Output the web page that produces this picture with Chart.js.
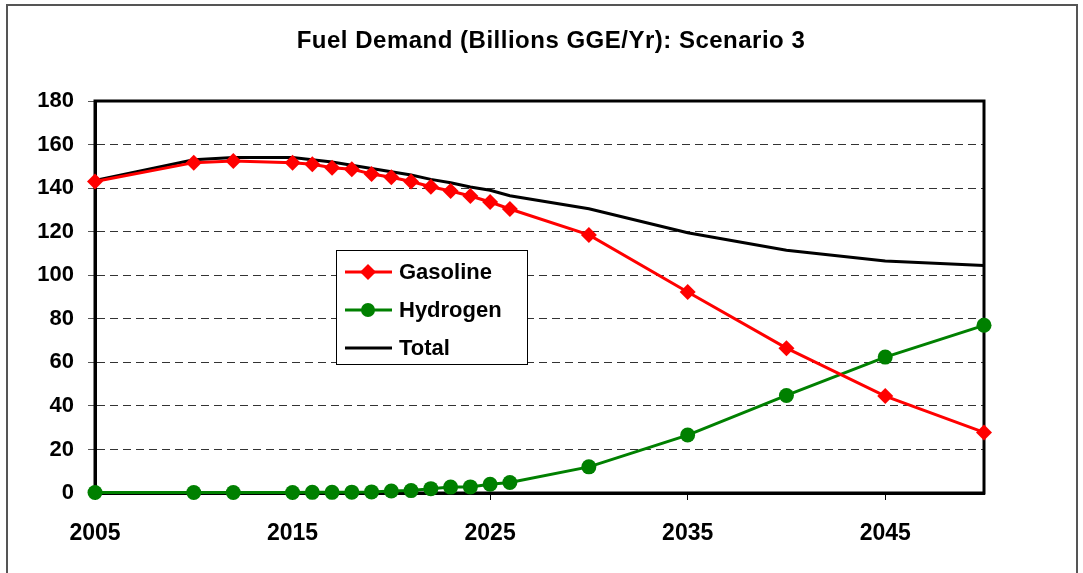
<!DOCTYPE html>
<html>
<head>
<meta charset="utf-8">
<script src="https://cdn.jsdelivr.net/npm/chart.js@4.4.1/dist/chart.umd.min.js"></script>
<style>
  html, body { margin: 0; padding: 0; background: #fff; }
  #wrap { width: 1083px; height: 573px; }
</style>
</head>
<body>
<div id="wrap"><canvas id="fuel-demand"></canvas></div>
<script>
const years = [2005, 2010, 2012, 2015, 2016, 2017, 2018, 2019, 2020, 2021, 2022, 2023, 2024, 2025, 2026, 2030, 2035, 2040, 2045, 2050];
const gasoline = [143, 151.7, 152.5, 151.7, 151, 149.4, 148.7, 146.5, 145, 143, 140.6, 138.7, 136.4, 133.6, 130.4, 118.5, 92.3, 66.5, 44.5, 27.8];
const hydrogen = [0.2, 0.2, 0.2, 0.2, 0.3, 0.3, 0.4, 0.5, 0.9, 1.1, 2, 2.7, 2.8, 4, 4.8, 12, 26.6, 44.8, 62.4, 77];
const total = [143.5, 153, 154, 154, 153, 152, 150.5, 149, 147.5, 146, 144, 142.5, 140.5, 139, 136.5, 130.5, 119.5, 111.5, 106.5, 104.5];
const xTickLabels = [2005, 2015, 2025, 2035, 2045];
const seriesNames = ["Gasoline", "Hydrogen", "Total"];
const chartTitle = "Fuel Demand (Billions GGE/Yr): Scenario 3";

const red = "#ff0000";
const green = "#008000";
const fontFamily = "Arial, 'Liberation Sans', sans-serif";

const toPoints = (vals) => vals.map((v, i) => ({ x: years[i], y: v }));

// grey frame round the whole chart, the title, and black frame round the plot
const framePlugin = {
  id: "frames",
  beforeDraw(chart) {
    const ctx = chart.ctx;
    ctx.save();
    ctx.strokeStyle = "#555";
    ctx.lineWidth = 2;
    ctx.strokeRect(7, 5, 1070, 620);
    ctx.fillStyle = "#000";
    ctx.font = "bold 24px " + fontFamily;
    ctx.letterSpacing = "0.5px";
    ctx.textAlign = "center";
    ctx.textBaseline = "middle";
    ctx.fillText(chartTitle, 551, 41);
    ctx.restore();
  },
  beforeDatasetsDraw(chart) {
    const { ctx, chartArea: a } = chart;
    ctx.save();
    ctx.strokeStyle = "#000";
    ctx.lineWidth = 3;
    ctx.strokeRect(a.left, a.top, a.right - a.left, a.bottom - a.top);
    ctx.restore();
  },
};

// legend box floating inside the plot
const boxLegend = {
  id: "boxLegend",
  afterDraw(chart) {
    const ctx = chart.ctx;
    const x0 = 336, y0 = 250, w = 191, h = 114;
    ctx.save();
    ctx.fillStyle = "#fff";
    ctx.fillRect(x0, y0, w, h);
    ctx.strokeStyle = "#000";
    ctx.lineWidth = 1;
    ctx.strokeRect(x0 + 0.5, y0 + 0.5, w, h);
    const rows = [272, 310, 348];
    const colors = [red, green, "#000"];
    ctx.font = "bold 22px " + fontFamily;
    ctx.textBaseline = "middle";
    rows.forEach((y, i) => {
      ctx.strokeStyle = colors[i];
      ctx.lineWidth = 3;
      ctx.beginPath();
      ctx.moveTo(345, y);
      ctx.lineTo(392, y);
      ctx.stroke();
      ctx.fillStyle = colors[i];
      if (i === 0) {
        ctx.beginPath();
        ctx.moveTo(368, y - 8);
        ctx.lineTo(376, y);
        ctx.lineTo(368, y + 8);
        ctx.lineTo(360, y);
        ctx.closePath();
        ctx.fill();
      } else if (i === 1) {
        ctx.beginPath();
        ctx.arc(368, y, 7, 0, Math.PI * 2);
        ctx.fill();
      }
      ctx.fillStyle = "#000";
      ctx.fillText(seriesNames[i], 399, y + 1);
    });
    ctx.restore();
  },
};

new Chart(document.getElementById("fuel-demand").getContext("2d"), {
  type: "line",
  data: {
    datasets: [
      {
        label: seriesNames[0],
        data: toPoints(gasoline),
        borderColor: red,
        backgroundColor: red,
        borderWidth: 3,
        pointStyle: "rectRot",
        pointRadius: 8,
        pointBorderWidth: 0,
        clip: false,
      },
      {
        label: seriesNames[1],
        data: toPoints(hydrogen),
        borderColor: green,
        backgroundColor: green,
        borderWidth: 3,
        pointStyle: "circle",
        pointRadius: 7.5,
        pointBorderWidth: 0,
        clip: false,
      },
      {
        label: seriesNames[2],
        data: toPoints(total),
        borderColor: "#000",
        backgroundColor: "#000",
        borderWidth: 3,
        pointRadius: 0,
        clip: false,
      },
    ],
  },
  options: {
    responsive: true,
    maintainAspectRatio: false,
    animation: false,
    events: [],
    layout: { padding: { left: 0, right: 99, top: 101, bottom: 0 } },
    scales: {
      x: {
        type: "linear",
        min: 2005,
        max: 2050,
        afterBuildTicks: (scale) => {
          scale.ticks = xTickLabels.map((v) => ({ value: v }));
        },
        afterFit: (scale) => {
          scale.height = 80;
        },
        grid: {
          drawOnChartArea: false,
          tickLength: 7,
          tickColor: "#000",
          tickWidth: 1,
        },
        border: { display: true, color: "#000", width: 3 },
        ticks: {
          color: "#000",
          padding: 20,
          maxRotation: 0,
          font: { family: fontFamily, size: 23, weight: "bold" },
          callback: (v) => String(v),
        },
      },
      y: {
        min: 0,
        max: 180,
        afterFit: (scale) => {
          scale.width = 95;
        },
        grid: {
          color: "#333",
          lineWidth: 1,
          tickLength: 7,
          tickColor: "#555",
          tickBorderDash: [],
        },
        border: { display: true, color: "#000", width: 3, dash: [8, 5] },
        ticks: {
          stepSize: 20,
          color: "#000",
          padding: 14,
          font: { family: fontFamily, size: 22, weight: "bold" },
        },
      },
    },
    plugins: {
      legend: { display: false },
      tooltip: { enabled: false },
      title: { display: false },
    },
  },
  plugins: [framePlugin, boxLegend],
});
</script>
</body>
</html>
